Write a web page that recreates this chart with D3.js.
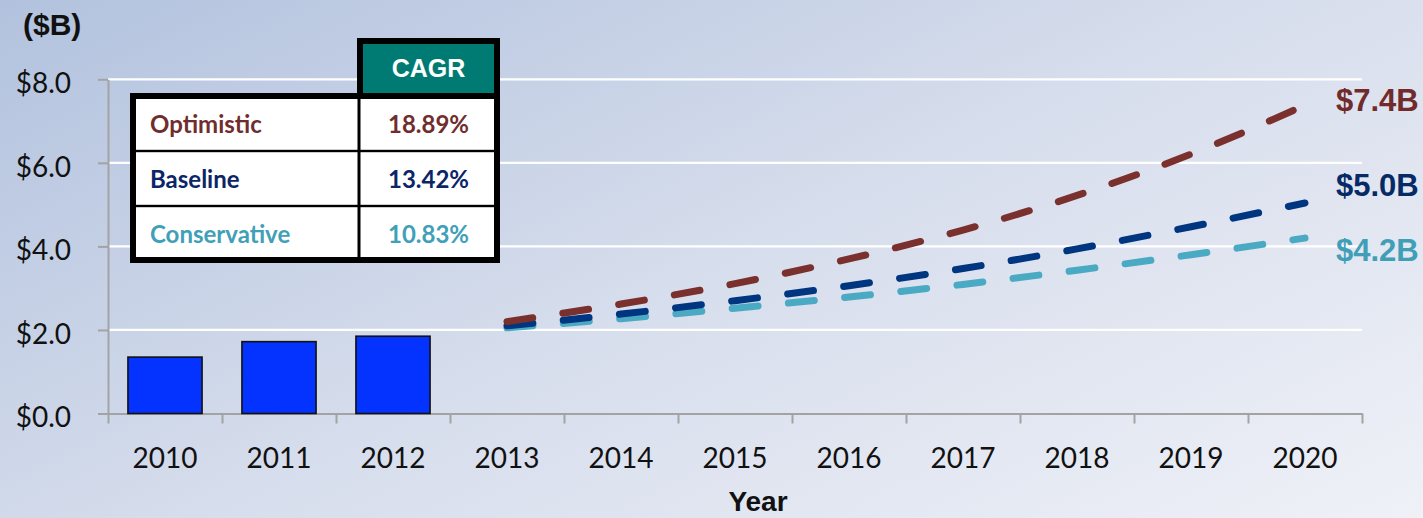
<!DOCTYPE html>
<html>
<head>
<meta charset="utf-8">
<script src="https://cdn.jsdelivr.net/npm/d3@7"></script>
<style>
  html, body { margin: 0; padding: 0; overflow: hidden; background: #ffffff; }
  svg { display: block; }
</style>
</head>
<body>
<svg id="chart" width="1423" height="518"></svg>
<script>
// Market size, $B: actuals 2010-2012, scenario forecasts 2013-2020
const years = ["2010", "2011", "2012", "2013", "2014", "2015", "2016", "2017", "2018", "2019", "2020"];
const actualYears = ["2010", "2011", "2012"];
const actualValues = [1.35, 1.72, 1.85];
const forecastYears = ["2013", "2014", "2015", "2016", "2017", "2018", "2019", "2020"];
const optimistic = [2.20, 2.62, 3.11, 3.70, 4.39, 5.22, 6.21, 7.38];
const baseline = [2.10, 2.38, 2.70, 3.06, 3.47, 3.94, 4.47, 5.04];
const conservative = [2.05, 2.27, 2.52, 2.79, 3.09, 3.43, 3.80, 4.20];
const scenarioNames = ["Optimistic", "Baseline", "Conservative"];
const cagrLabels = ["18.89%", "13.42%", "10.83%"];
const yTicks = [0, 2, 4, 6, 8];

const W = 1423, H = 518;
const bodyFont = "Lato, 'Open Sans', sans-serif";
const headFont = "'Liberation Sans', Arial, sans-serif";
const lineColors = ["#7a302d", "#003580", "#4aaac3"];
const labelColors = ["#712b2b", "#062a66", "#409fb7"];
const tableTextColors = ["#712d2d", "#0c2567", "#40a0b8"];

const svg = d3.select("#chart");

// background wash
const defs = svg.append("defs");
const grad = defs.append("linearGradient")
  .attr("id", "bg").attr("gradientUnits", "userSpaceOnUse")
  .attr("x1", 0).attr("y1", 0).attr("x2", 479).attr("y2", 980);
grad.append("stop").attr("offset", 0).attr("stop-color", "#b2c2de");
grad.append("stop").attr("offset", 0.5).attr("stop-color", "#d6ddec");
grad.append("stop").attr("offset", 1).attr("stop-color", "#eff1f7");
svg.append("rect").attr("width", W).attr("height", H).attr("fill", "url(#bg)");

// scales
const x = d3.scaleBand().domain(years).range([108, 1362])
  .paddingInner(0.35).paddingOuter(0.175);
const xEdge = d3.scaleLinear().domain([0, years.length]).range([108, 1362]);
const y = d3.scaleLinear().domain([0, 8]).range([413.5, 79.3]);
const cx = d => x(d) + x.bandwidth() / 2;

// horizontal gridlines
svg.append("g").selectAll("line")
  .data(yTicks.filter(v => v > 0))
  .join("line")
  .attr("x1", 108).attr("x2", 1362)
  .attr("y1", d => y(d)).attr("y2", d => y(d))
  .attr("stroke", "#ffffff").attr("stroke-width", 2.2);

// y axis
const yAxis = svg.append("g").attr("transform", "translate(108,0)")
  .call(d3.axisLeft(y).tickValues(yTicks).tickSize(10).tickSizeOuter(0)
    .tickPadding(27).tickFormat(d => "$" + d.toFixed(1)));
yAxis.select(".domain").attr("stroke", "#a3a3a3").attr("stroke-width", 2);
yAxis.selectAll(".tick line").attr("stroke", "#a3a3a3").attr("stroke-width", 2);
yAxis.selectAll(".tick text")
  .attr("font-family", bodyFont).attr("font-size", 28).attr("fill", "#111")
  .attr("dy", "0.48em");

// x axis: boundary ticks
const xTicks = svg.append("g").attr("transform", "translate(0,413.5)")
  .call(d3.axisBottom(xEdge).tickValues(d3.range(years.length + 1))
    .tickSize(10).tickSizeOuter(0).tickFormat(""));
xTicks.select(".domain").attr("stroke", "#a3a3a3").attr("stroke-width", 2);
xTicks.selectAll(".tick line").attr("stroke", "#a3a3a3").attr("stroke-width", 2);

// x axis: year labels centred in each band
const xLabels = svg.append("g").attr("transform", "translate(0,413.5)")
  .call(d3.axisBottom(x).tickSize(0).tickSizeOuter(0));
xLabels.select(".domain").remove();
xLabels.selectAll(".tick text")
  .attr("font-family", bodyFont).attr("font-size", 28).attr("fill", "#111")
  .attr("y", 54).attr("dy", null);

// axis titles
svg.append("text").attr("x", 23).attr("y", 35)
  .attr("font-family", headFont).attr("font-weight", "bold")
  .attr("font-size", 30).attr("fill", "#111").text("($B)");
svg.append("text").attr("x", cx("2015") + 23).attr("y", 511)
  .attr("text-anchor", "middle")
  .attr("font-family", headFont).attr("font-weight", "bold")
  .attr("font-size", 28).attr("fill", "#111").text("Year");

// actual bars
svg.append("g").selectAll("rect")
  .data(actualYears.map((yr, i) => ({ year: yr, value: actualValues[i] })))
  .join("rect")
  .attr("x", d => x(d.year)).attr("width", x.bandwidth())
  .attr("y", d => y(d.value)).attr("height", d => y(0) - y(d.value))
  .attr("fill", "#0433ff").attr("stroke", "#111").attr("stroke-width", 1.6);

// forecast scenarios as dashed curves
const scenarios = [optimistic, baseline, conservative].map((vals, i) => ({
  name: scenarioNames[i],
  color: lineColors[i],
  labelColor: labelColors[i],
  points: forecastYears.map((yr, j) => ({ year: yr, value: vals[j] }))
}));
const line = d3.line().x(d => cx(d.year)).y(d => y(d.value)).curve(d3.curveMonotoneX);

svg.append("g").selectAll("path")
  .data(scenarios.slice().reverse())
  .join("path")
  .attr("d", d => line(d.points))
  .attr("fill", "none").attr("stroke", d => d.color)
  .attr("stroke-width", 7).attr("stroke-linecap", "round")
  .attr("stroke-dasharray", "26 30.5");

// end-of-period value labels
svg.append("g").selectAll("text")
  .data(scenarios)
  .join("text")
  .attr("x", 1336)
  .attr("y", (d, i) => [111, 196, 261][i])
  .attr("font-family", headFont).attr("font-weight", "bold")
  .attr("font-size", 31).attr("fill", d => d.labelColor)
  .text(d => "$" + d.points[d.points.length - 1].value.toFixed(1) + "B");

// CAGR table
const table = svg.append("g");
table.append("rect").attr("x", 357).attr("y", 38).attr("width", 143).attr("height", 61).attr("fill", "#000");
table.append("rect").attr("x", 363).attr("y", 44).attr("width", 131).attr("height", 52).attr("fill", "#007b74");
table.append("rect").attr("x", 130).attr("y", 93).attr("width", 370).attr("height", 170).attr("fill", "#000");
table.append("rect").attr("x", 136).attr("y", 99).attr("width", 358).attr("height", 158).attr("fill", "#fff");
[151, 206].forEach(ry => table.append("rect").attr("x", 136).attr("y", ry - 1.2)
  .attr("width", 358).attr("height", 2.4).attr("fill", "#000"));
table.append("rect").attr("x", 357.5).attr("y", 96).attr("width", 3).attr("height", 162).attr("fill", "#000");

table.append("text").attr("x", 428.5).attr("y", 77).attr("text-anchor", "middle")
  .attr("font-family", headFont).attr("font-weight", "bold")
  .attr("font-size", 25).attr("fill", "#fff").text("CAGR");

const rowBase = [133, 188, 243];
table.selectAll("text.name")
  .data(scenarioNames)
  .join("text").attr("class", "name")
  .attr("x", 150).attr("y", (d, i) => rowBase[i])
  .attr("font-family", bodyFont).attr("font-weight", "bold")
  .attr("font-size", 24).attr("fill", (d, i) => tableTextColors[i]).text(d => d);
table.selectAll("text.rate")
  .data(cagrLabels)
  .join("text").attr("class", "rate")
  .attr("x", 428.5).attr("y", (d, i) => rowBase[i]).attr("text-anchor", "middle")
  .attr("font-family", bodyFont).attr("font-weight", "bold")
  .attr("font-size", 24).attr("fill", (d, i) => tableTextColors[i]).text(d => d);
</script>
</body>
</html>
